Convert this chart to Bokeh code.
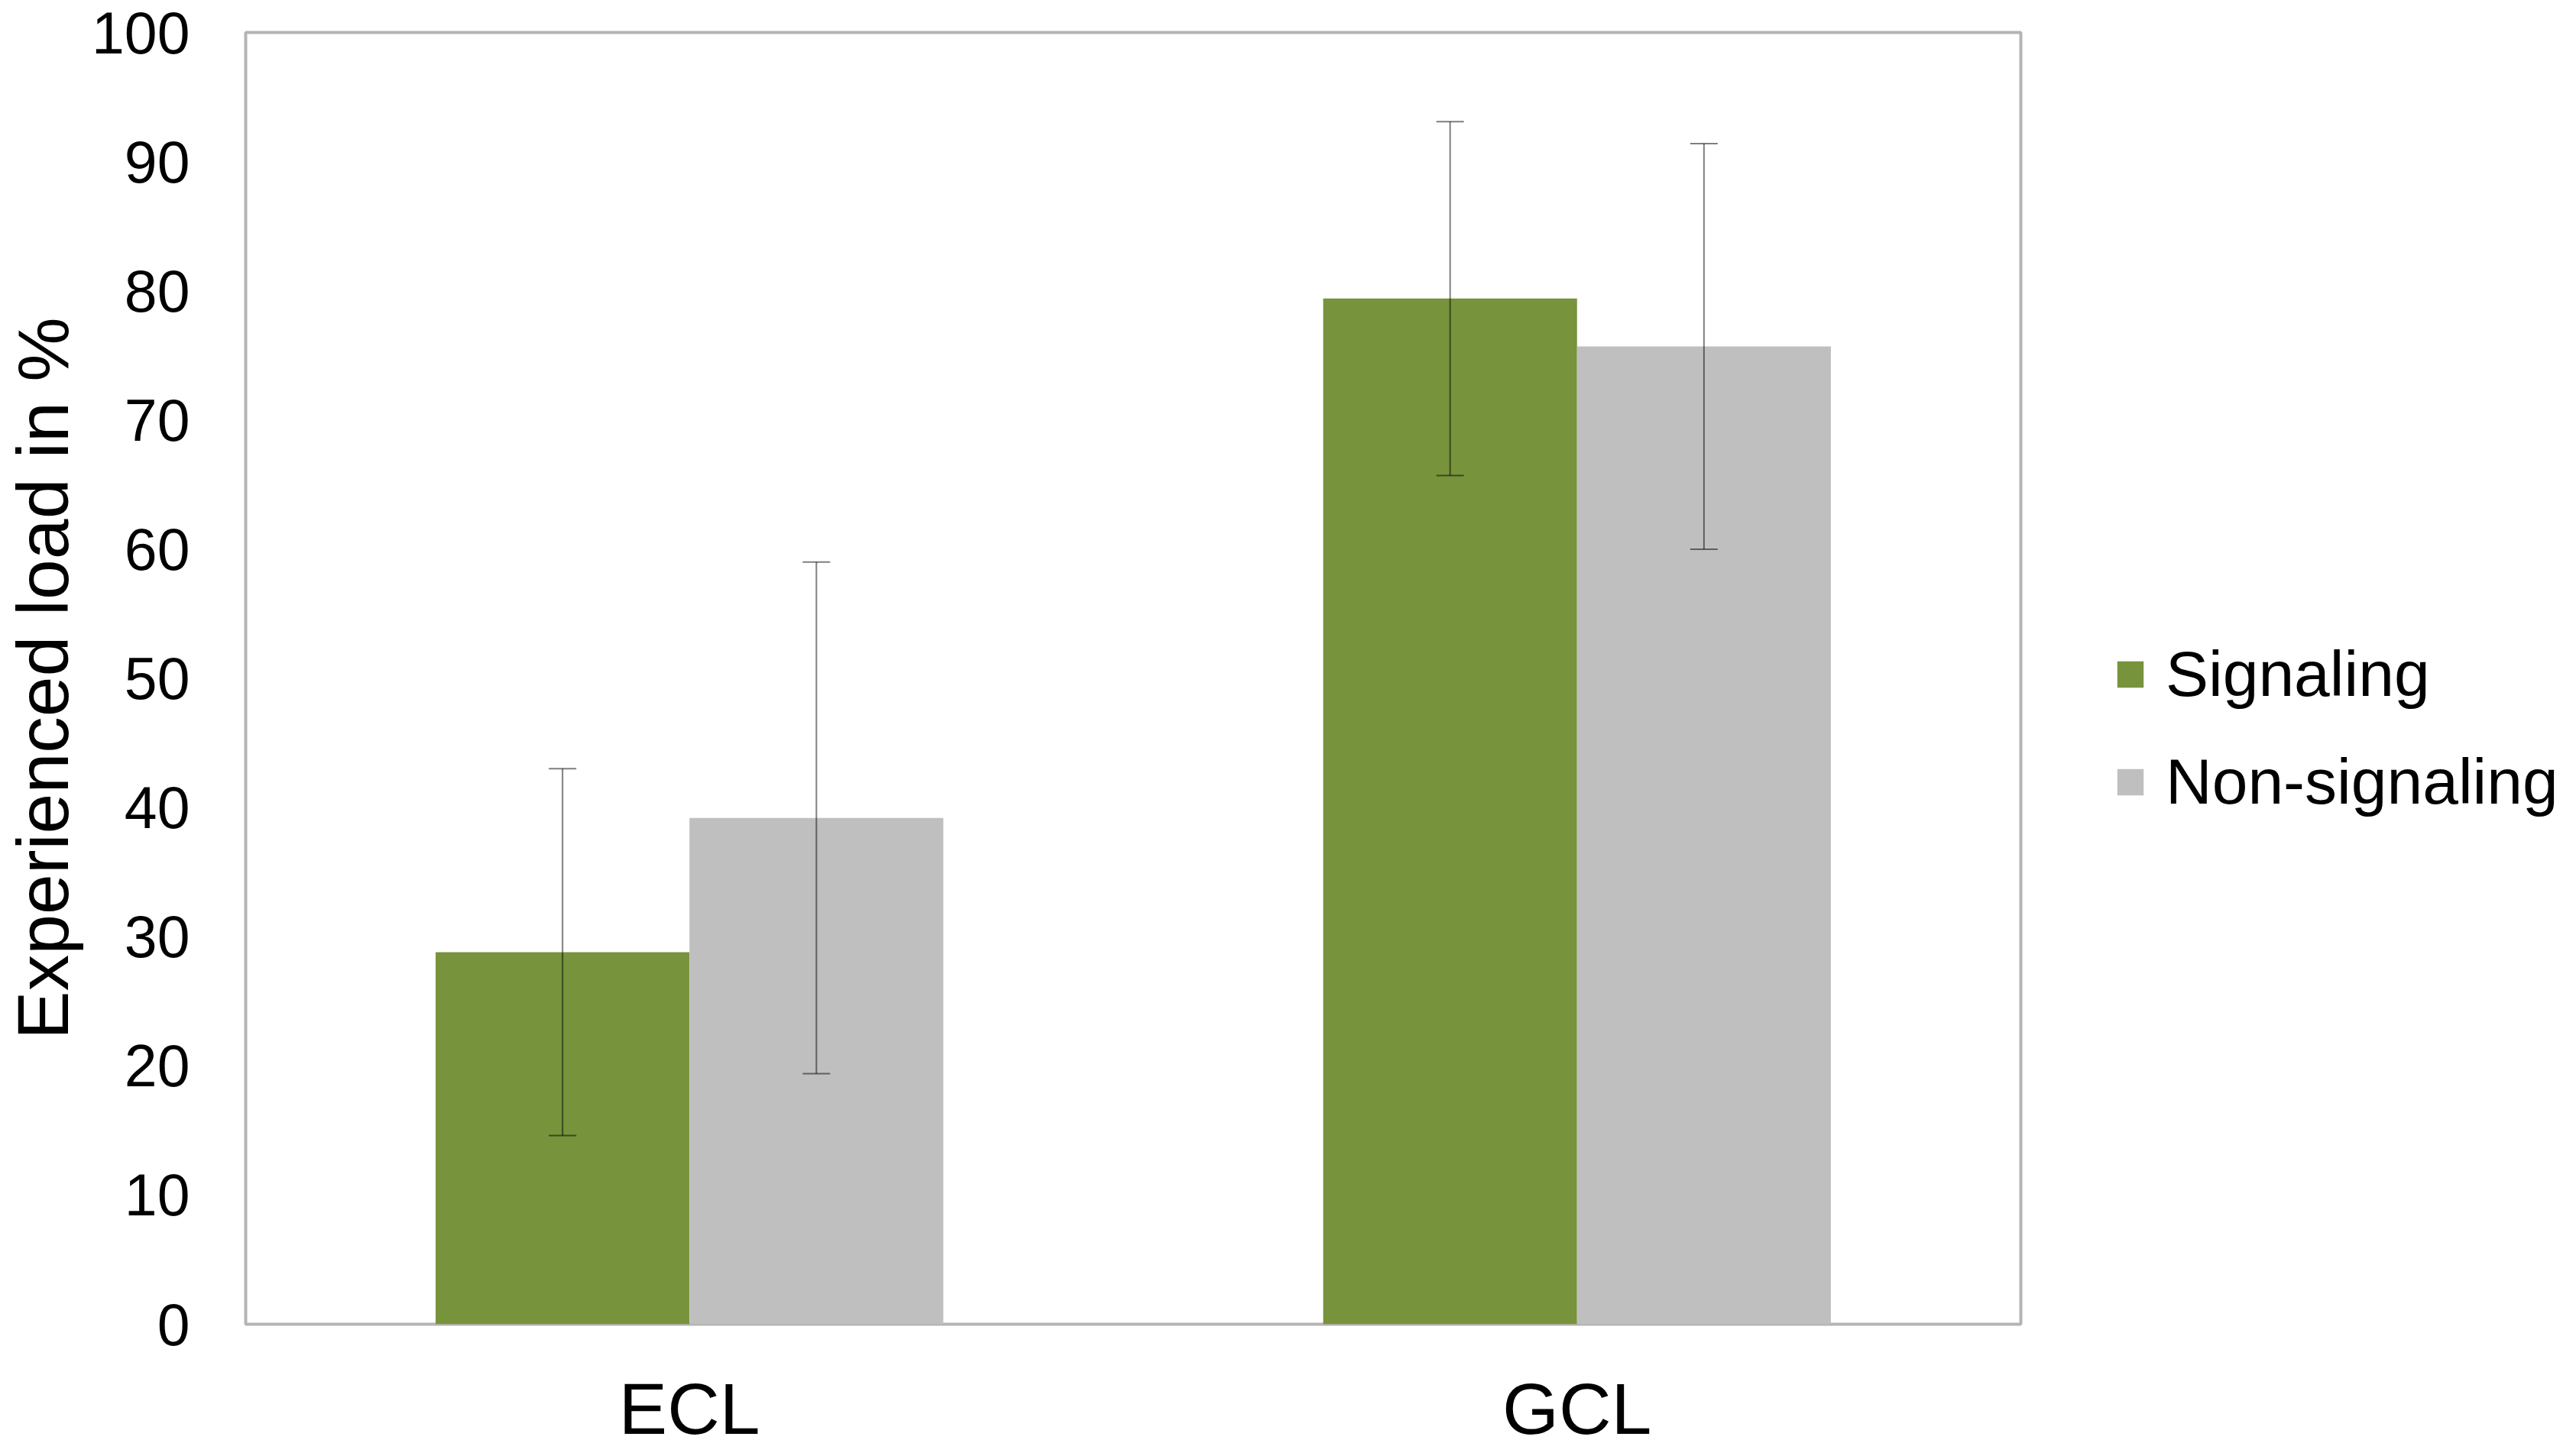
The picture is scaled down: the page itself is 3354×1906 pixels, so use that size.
from bokeh.plotting import figure
from bokeh.models import (ColumnDataSource, FactorRange, Range1d, Whisker, TeeHead,
                          Legend, LegendItem, FixedTicker)
from bokeh.transform import dodge
from bokeh.embed import file_html
from bokeh.resources import INLINE

# ---- data ----
categories = ["ECL", "GCL"]
series_names = ["Signaling", "Non-signaling"]
signaling = [28.8, 79.4]
non_signaling = [39.2, 75.7]
signaling_err = [14.2, 13.7]
non_signaling_err = [19.8, 15.7]
y_ticks = [0, 10, 20, 30, 40, 50, 60, 70, 80, 90, 100]

GREEN = "#77933C"
GRAY = "#BFBFBF"
FONT = "Liberation Sans"

src = ColumnDataSource(dict(
    cat=categories,
    sig=signaling,
    non=non_signaling,
    sig_up=[v + e for v, e in zip(signaling, signaling_err)],
    sig_lo=[v - e for v, e in zip(signaling, signaling_err)],
    non_up=[v + e for v, e in zip(non_signaling, non_signaling_err)],
    non_lo=[v - e for v, e in zip(non_signaling, non_signaling_err)],
))

p = figure(x_range=FactorRange(*categories), y_range=Range1d(0, 100),
           frame_width=2323, frame_height=1691, output_backend="svg", toolbar_location=None,
           min_border_left=313, min_border_top=42, min_border_right=0,
           min_border_bottom=157)

bw = 0.286
r1 = p.vbar(x=dodge("cat", -bw / 2, range=p.x_range), top="sig", width=bw, bottom=0,
            source=src, fill_color=GREEN, line_color=None)
r2 = p.vbar(x=dodge("cat", bw / 2, range=p.x_range), top="non", width=bw, bottom=0,
            source=src, fill_color=GRAY, line_color=None)

for base, up, lo in [(-bw / 2, "sig_up", "sig_lo"), (bw / 2, "non_up", "non_lo")]:
    w = Whisker(base=dodge("cat", base, range=p.x_range), upper=up, lower=lo, source=src,
                line_color="black", line_alpha=0.5, line_width=2, level="overlay",
                upper_head=TeeHead(size=36, line_color="black", line_alpha=0.5, line_width=2),
                lower_head=TeeHead(size=36, line_color="black", line_alpha=0.5, line_width=2))
    p.add_layout(w)

# frame / axes
p.outline_line_color = "#B4B4B4"
p.outline_line_width = 4
p.xgrid.grid_line_color = None
p.ygrid.grid_line_color = None
p.background_fill_color = "white"
p.border_fill_color = "white"

for ax in (p.xaxis, p.yaxis):
    ax.axis_line_color = None
    ax.major_tick_line_color = None
    ax.minor_tick_line_color = None
    ax.major_tick_in = 0
    ax.major_tick_out = 0
    ax.major_label_text_font = FONT
    ax.major_label_text_color = "black"
    ax.axis_label_text_font = FONT
    ax.axis_label_text_font_style = "normal"
    ax.axis_label_text_color = "black"

p.yaxis.ticker = FixedTicker(ticks=y_ticks)
p.yaxis.major_label_text_font_size = "77px"
p.yaxis.major_label_standoff = 73
p.yaxis.axis_label = "Experienced load in %"
p.yaxis.axis_label_text_font_size = "95px"
p.yaxis.axis_label_standoff = 8

p.xaxis.major_label_text_font_size = "95px"
p.xaxis.major_label_standoff = 57

legend = Legend(items=[LegendItem(label=series_names[0], renderers=[r1]),
                       LegendItem(label=series_names[1], renderers=[r2])],
                location=(122, 660), orientation="vertical",
                glyph_width=43, glyph_height=43, label_height=100, spacing=41,
                label_standoff=25, padding=0, margin=0,
                label_text_font=FONT, label_text_font_size="84px",
                label_text_color="black", border_line_color=None,
                background_fill_alpha=0)
p.add_layout(legend, "right")

open("out.html", "w").write(file_html(p, INLINE))
